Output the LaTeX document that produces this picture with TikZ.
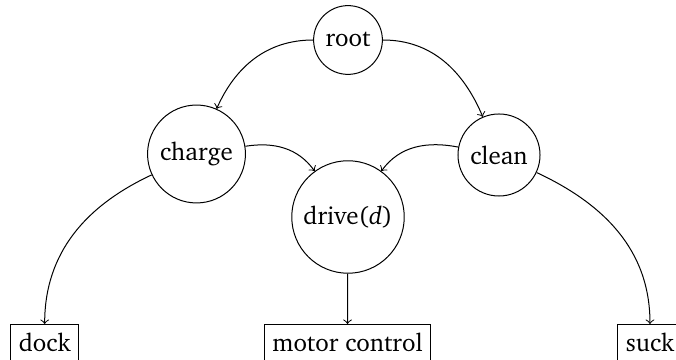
\documentclass[tikz,border=0pt]{standalone}
\usepackage[T1]{fontenc}
\usepackage{charter}
\begin{document}
\begin{tikzpicture}[x=1pt,y=1pt,
  state/.style={draw,circle,line width=0.4pt},
  leaf/.style={draw,rectangle,anchor=north,text depth=6pt,line width=0.4pt},
  link/.style={->,line width=0.4pt}]
  \useasboundingbox (0,0) rectangle (270.4,-144);
  \clip (0,0) rectangle (270.4,-144);
  % task nodes
  \node[state] (root)   at (139.2,-16)   {root};
  \node[state] (charge) at (78.6,-61.6)  {charge};
  \node[state] (clean)  at (199.6,-62)   {clean};
  \node[state] (drive)  at (139.2,-86.8) {drive(\textit{d})};
  % primitive actions
  \node[leaf,anchor=north west] (dock)  at (4,-129.6)     {dock};
  \node[leaf] (motor) at (139,-129.6) {motor control};
  \node[leaf,anchor=north west] (suck)  at (246.8,-129.6) {suck};
  % connectors
  \draw[link] (root)   to[out=180,in=66]  (charge);
  \draw[link] (root)   to[out=0,in=113]   (clean);
  \draw[link] (charge) to[out=9,in=126]   (drive);
  \draw[link] (clean)  to[out=169,in=54]  (drive);
  \draw[link] (charge) to[out=205,in=90]  (dock.north);
  \draw[link] (clean)  to[out=-25,in=90]  (suck.north);
  \draw[link] (drive)  -- (motor.north);
\end{tikzpicture}
\end{document}
